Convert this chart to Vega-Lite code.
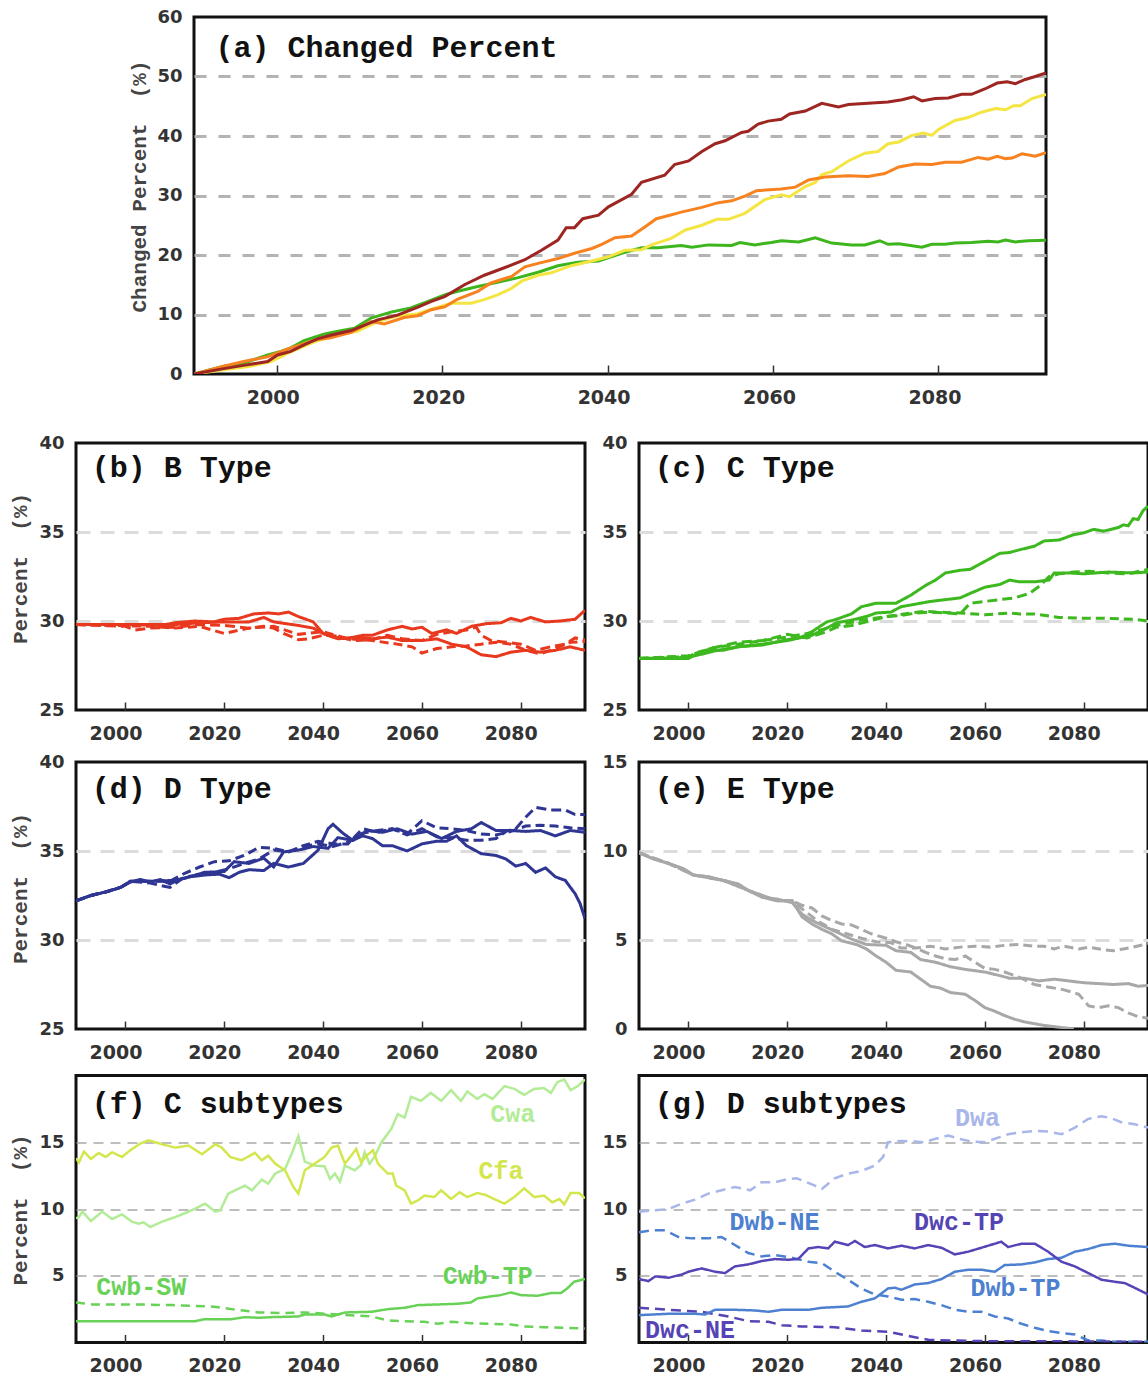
{
"$schema": "https://vega.github.io/schema/vega-lite/v6.json",
"padding": {"left": 7, "top": 6, "right": 0, "bottom": 5},
"spacing": 23,
"resolve": {"scale": {"color": "independent", "strokeDash": "independent", "strokeWidth": "independent"}},
"config": {
  "view": {"stroke": "#111111", "strokeWidth": 3},
  "axisX": {"domain": false, "grid": false, "ticks": true, "tickSize": -8, "tickWidth": 1.5, "tickColor": "#333333", "labelFont": "DejaVu Sans", "labelFontWeight": "bold", "labelFontSize": 19, "labelColor": "#333333", "labelPadding": 22, "labelOffset": -10, "labelFlush": false, "labelOverlap": false},
  "axisY": {"domain": false, "ticks": false, "grid": true, "labelFont": "DejaVu Sans", "labelFontWeight": "bold", "labelFontSize": 18, "labelColor": "#333333", "labelPadding": 12, "labelOverlap": false, "titleFont": "Liberation Mono", "titleFontWeight": "bold", "titleFontSize": 21, "titleColor": "#444444", "titleAngle": 270, "titleAlign": "center", "titleBaseline": "middle", "titleX": -56, "gridColor": "#dcdcdc", "gridDash": [14, 10], "gridWidth": 3}
},
"datasets": {
"chg": [
{"s":"s1","year":1990,"v":0},{"s":"s1","year":1993.6,"v":1.3},{"s":"s1","year":1996,"v":1.8},{"s":"s1","year":1998.9,"v":3.2},{"s":"s1","year":2000.5,"v":3.8},{"s":"s1","year":2001.7,"v":4.4},{"s":"s1","year":2003.3,"v":5.6},{"s":"s1","year":2005.7,"v":6.7},{"s":"s1","year":2007.4,"v":7.2},{"s":"s1","year":2009.4,"v":7.7},{"s":"s1","year":2011.4,"v":9.4},{"s":"s1","year":2013.8,"v":10.4},{"s":"s1","year":2016.2,"v":11.1},{"s":"s1","year":2018.3,"v":12.2},{"s":"s1","year":2020.3,"v":13.3},{"s":"s1","year":2021.9,"v":13.9},{"s":"s1","year":2024.3,"v":14.7},{"s":"s1","year":2026.7,"v":15.4},{"s":"s1","year":2029.2,"v":16.2},{"s":"s1","year":2031.6,"v":17.1},{"s":"s1","year":2034,"v":18.2},{"s":"s1","year":2036.4,"v":18.8},{"s":"s1","year":2038.9,"v":19.0},{"s":"s1","year":2041.7,"v":20.3},{"s":"s1","year":2044.1,"v":21.2},{"s":"s1","year":2046.1,"v":21.2},{"s":"s1","year":2048.9,"v":21.6},{"s":"s1","year":2050.2,"v":21.3},{"s":"s1","year":2052.2,"v":21.7},{"s":"s1","year":2055,"v":21.6},{"s":"s1","year":2056,"v":22.1},{"s":"s1","year":2057.8,"v":21.7},{"s":"s1","year":2059.8,"v":22.1},{"s":"s1","year":2061,"v":22.4},{"s":"s1","year":2063.1,"v":22.2},{"s":"s1","year":2065.1,"v":22.9},{"s":"s1","year":2067.1,"v":22.0},{"s":"s1","year":2069.5,"v":21.7},{"s":"s1","year":2071.1,"v":21.7},{"s":"s1","year":2072.9,"v":22.4},{"s":"s1","year":2073.9,"v":21.8},{"s":"s1","year":2075.2,"v":21.9},{"s":"s1","year":2078,"v":21.3},{"s":"s1","year":2079.2,"v":21.8},{"s":"s1","year":2080.8,"v":21.8},{"s":"s1","year":2082,"v":22.0},{"s":"s1","year":2084,"v":22.1},{"s":"s1","year":2086,"v":22.3},{"s":"s1","year":2087.2,"v":22.2},{"s":"s1","year":2088.1,"v":22.5},{"s":"s1","year":2089.3,"v":22.2},{"s":"s1","year":2090.9,"v":22.4},{"s":"s1","year":2093,"v":22.5},
{"s":"s2","year":1990,"v":0},{"s":"s2","year":1993.6,"v":0.7},{"s":"s2","year":1996.8,"v":1.3},{"s":"s2","year":1999.3,"v":2.1},{"s":"s2","year":2001.7,"v":3.7},{"s":"s2","year":2004.9,"v":5.6},{"s":"s2","year":2007.4,"v":6.5},{"s":"s2","year":2009.8,"v":7.2},{"s":"s2","year":2012.2,"v":8.8},{"s":"s2","year":2014.6,"v":9.8},{"s":"s2","year":2017,"v":10.1},{"s":"s2","year":2018.7,"v":10.9},{"s":"s2","year":2021.1,"v":11.9},{"s":"s2","year":2023.5,"v":11.9},{"s":"s2","year":2025.1,"v":12.5},{"s":"s2","year":2026.7,"v":13.3},{"s":"s2","year":2028.4,"v":14.4},{"s":"s2","year":2029.6,"v":15.6},{"s":"s2","year":2031.6,"v":16.6},{"s":"s2","year":2033.2,"v":17.0},{"s":"s2","year":2035.6,"v":18.2},{"s":"s2","year":2038.1,"v":19.0},{"s":"s2","year":2040.1,"v":19.7},{"s":"s2","year":2042.1,"v":20.8},{"s":"s2","year":2044.1,"v":20.9},{"s":"s2","year":2045.3,"v":21.7},{"s":"s2","year":2047.7,"v":22.8},{"s":"s2","year":2049.4,"v":24.2},{"s":"s2","year":2051.4,"v":25.0},{"s":"s2","year":2053.2,"v":26.0},{"s":"s2","year":2054.6,"v":26.0},{"s":"s2","year":2056.6,"v":27.0},{"s":"s2","year":2059,"v":29.3},{"s":"s2","year":2061,"v":30.1},{"s":"s2","year":2062,"v":29.8},{"s":"s2","year":2063.9,"v":31.5},{"s":"s2","year":2065.1,"v":32.2},{"s":"s2","year":2065.9,"v":33.5},{"s":"s2","year":2067.1,"v":34.0},{"s":"s2","year":2069.1,"v":35.8},{"s":"s2","year":2071.1,"v":37.1},{"s":"s2","year":2072.7,"v":37.4},{"s":"s2","year":2073.9,"v":38.7},{"s":"s2","year":2075.2,"v":39.0},{"s":"s2","year":2076.8,"v":40.1},{"s":"s2","year":2078.2,"v":40.5},{"s":"s2","year":2079.2,"v":40.1},{"s":"s2","year":2080,"v":41.1},{"s":"s2","year":2082,"v":42.6},{"s":"s2","year":2083.6,"v":43.1},{"s":"s2","year":2085.2,"v":44.0},{"s":"s2","year":2086.9,"v":44.6},{"s":"s2","year":2088.1,"v":44.4},{"s":"s2","year":2089.1,"v":45.1},{"s":"s2","year":2089.9,"v":45.1},{"s":"s2","year":2091.3,"v":46.3},{"s":"s2","year":2093,"v":47.0},
{"s":"s3","year":1990,"v":0},{"s":"s3","year":1993.6,"v":1.3},{"s":"s3","year":1996,"v":2.1},{"s":"s3","year":1998.9,"v":2.9},{"s":"s3","year":2001.7,"v":4.4},{"s":"s3","year":2004.9,"v":5.8},{"s":"s3","year":2006.5,"v":6.1},{"s":"s3","year":2009,"v":7.0},{"s":"s3","year":2011.4,"v":8.8},{"s":"s3","year":2013,"v":8.4},{"s":"s3","year":2015.4,"v":9.5},{"s":"s3","year":2017,"v":9.8},{"s":"s3","year":2018.7,"v":10.8},{"s":"s3","year":2020.3,"v":11.3},{"s":"s3","year":2021.9,"v":12.6},{"s":"s3","year":2024.3,"v":13.9},{"s":"s3","year":2025.9,"v":15.3},{"s":"s3","year":2028.4,"v":16.4},{"s":"s3","year":2030,"v":18.0},{"s":"s3","year":2031.6,"v":18.6},{"s":"s3","year":2034,"v":19.4},{"s":"s3","year":2036,"v":20.3},{"s":"s3","year":2038.1,"v":21.1},{"s":"s3","year":2039.3,"v":21.8},{"s":"s3","year":2040.9,"v":22.9},{"s":"s3","year":2042.9,"v":23.2},{"s":"s3","year":2044.5,"v":24.7},{"s":"s3","year":2045.9,"v":26.1},{"s":"s3","year":2047.3,"v":26.6},{"s":"s3","year":2048.9,"v":27.2},{"s":"s3","year":2051.4,"v":28.0},{"s":"s3","year":2053.4,"v":28.8},{"s":"s3","year":2055,"v":29.1},{"s":"s3","year":2056.6,"v":29.9},{"s":"s3","year":2058,"v":30.8},{"s":"s3","year":2061,"v":31.1},{"s":"s3","year":2062.7,"v":31.4},{"s":"s3","year":2064.3,"v":32.6},{"s":"s3","year":2066.3,"v":33.1},{"s":"s3","year":2069.1,"v":33.3},{"s":"s3","year":2071.5,"v":33.2},{"s":"s3","year":2073.5,"v":33.7},{"s":"s3","year":2075.2,"v":34.8},{"s":"s3","year":2077.2,"v":35.3},{"s":"s3","year":2079.2,"v":35.2},{"s":"s3","year":2080.8,"v":35.6},{"s":"s3","year":2082.8,"v":35.6},{"s":"s3","year":2084.8,"v":36.4},{"s":"s3","year":2086,"v":36.1},{"s":"s3","year":2087.1,"v":36.6},{"s":"s3","year":2088.1,"v":36.2},{"s":"s3","year":2088.9,"v":36.3},{"s":"s3","year":2090.1,"v":37.0},{"s":"s3","year":2091.7,"v":36.6},{"s":"s3","year":2093,"v":37.2},
{"s":"s4","year":1990,"v":0},{"s":"s4","year":1993.6,"v":0.9},{"s":"s4","year":1996,"v":1.45},{"s":"s4","year":1998.9,"v":2.1},{"s":"s4","year":2000.1,"v":3.2},{"s":"s4","year":2001.7,"v":3.8},{"s":"s4","year":2003.3,"v":4.9},{"s":"s4","year":2004.9,"v":5.9},{"s":"s4","year":2006.5,"v":6.5},{"s":"s4","year":2009,"v":7.3},{"s":"s4","year":2012.2,"v":9.1},{"s":"s4","year":2014.6,"v":9.9},{"s":"s4","year":2017,"v":11.2},{"s":"s4","year":2018.7,"v":12.2},{"s":"s4","year":2020.3,"v":13.0},{"s":"s4","year":2022.7,"v":15.0},{"s":"s4","year":2025.1,"v":16.6},{"s":"s4","year":2027.6,"v":17.9},{"s":"s4","year":2030,"v":19.2},{"s":"s4","year":2032,"v":20.8},{"s":"s4","year":2034,"v":22.5},{"s":"s4","year":2035,"v":24.6},{"s":"s4","year":2036,"v":24.6},{"s":"s4","year":2037,"v":26.1},{"s":"s4","year":2038.9,"v":26.7},{"s":"s4","year":2040.1,"v":28.1},{"s":"s4","year":2042.9,"v":30.2},{"s":"s4","year":2044.1,"v":32.2},{"s":"s4","year":2046.9,"v":33.4},{"s":"s4","year":2048.1,"v":35.2},{"s":"s4","year":2049.8,"v":35.8},{"s":"s4","year":2051.4,"v":37.4},{"s":"s4","year":2053,"v":38.7},{"s":"s4","year":2054.2,"v":39.2},{"s":"s4","year":2056.2,"v":40.6},{"s":"s4","year":2057,"v":40.8},{"s":"s4","year":2058.2,"v":42.0},{"s":"s4","year":2059.4,"v":42.5},{"s":"s4","year":2061,"v":42.8},{"s":"s4","year":2062,"v":43.7},{"s":"s4","year":2063.9,"v":44.2},{"s":"s4","year":2065.9,"v":45.5},{"s":"s4","year":2067.9,"v":44.9},{"s":"s4","year":2069.1,"v":45.3},{"s":"s4","year":2071.5,"v":45.5},{"s":"s4","year":2073.9,"v":45.7},{"s":"s4","year":2075.6,"v":46.1},{"s":"s4","year":2077,"v":46.6},{"s":"s4","year":2078,"v":45.9},{"s":"s4","year":2079.6,"v":46.3},{"s":"s4","year":2081.2,"v":46.4},{"s":"s4","year":2082.8,"v":47.0},{"s":"s4","year":2084,"v":47.0},{"s":"s4","year":2085.6,"v":47.9},{"s":"s4","year":2087.1,"v":48.9},{"s":"s4","year":2088.3,"v":49.1},{"s":"s4","year":2089.3,"v":48.8},{"s":"s4","year":2090.5,"v":49.5},{"s":"s4","year":2091.7,"v":50.0},{"s":"s4","year":2093,"v":50.6}
],
"types": [
{"p":"b","s":"s4","year":1990,"v":29.8},{"p":"b","s":"s4","year":2005,"v":29.7},{"p":"b","s":"s4","year":2010,"v":29.6},{"p":"b","s":"s4","year":2015,"v":29.7},{"p":"b","s":"s4","year":2020,"v":29.3},{"p":"b","s":"s4","year":2025,"v":29.6},{"p":"b","s":"s4","year":2030,"v":29.7},{"p":"b","s":"s4","year":2035,"v":29.25},{"p":"b","s":"s4","year":2040,"v":29.4},{"p":"b","s":"s4","year":2045,"v":29.0},{"p":"b","s":"s4","year":2050,"v":28.9},{"p":"b","s":"s4","year":2055,"v":28.7},{"p":"b","s":"s4","year":2058,"v":28.55},{"p":"b","s":"s4","year":2060,"v":28.2},{"p":"b","s":"s4","year":2063,"v":28.45},{"p":"b","s":"s4","year":2066,"v":28.55},{"p":"b","s":"s4","year":2069,"v":28.6},{"p":"b","s":"s4","year":2072,"v":28.7},{"p":"b","s":"s4","year":2075,"v":28.8},{"p":"b","s":"s4","year":2078,"v":28.7},{"p":"b","s":"s4","year":2081,"v":28.35},{"p":"b","s":"s4","year":2084,"v":28.15},{"p":"b","s":"s4","year":2087,"v":28.45},{"p":"b","s":"s4","year":2090,"v":28.8},{"p":"b","s":"s4","year":2093,"v":28.85},
{"p":"b","s":"s3","year":1990,"v":29.8},{"p":"b","s":"s3","year":2010,"v":29.8},{"p":"b","s":"s3","year":2015,"v":29.9},{"p":"b","s":"s3","year":2020,"v":29.95},{"p":"b","s":"s3","year":2025,"v":29.95},{"p":"b","s":"s3","year":2028,"v":30.2},{"p":"b","s":"s3","year":2030,"v":29.95},{"p":"b","s":"s3","year":2035,"v":29.75},{"p":"b","s":"s3","year":2038,"v":29.6},{"p":"b","s":"s3","year":2040,"v":29.3},{"p":"b","s":"s3","year":2043,"v":29.0},{"p":"b","s":"s3","year":2047,"v":29.1},{"p":"b","s":"s3","year":2050,"v":29.0},{"p":"b","s":"s3","year":2053,"v":29.1},{"p":"b","s":"s3","year":2056,"v":28.9},{"p":"b","s":"s3","year":2060,"v":28.9},{"p":"b","s":"s3","year":2063,"v":29.0},{"p":"b","s":"s3","year":2066,"v":28.7},{"p":"b","s":"s3","year":2069,"v":28.55},{"p":"b","s":"s3","year":2072,"v":28.1},{"p":"b","s":"s3","year":2075,"v":28.0},{"p":"b","s":"s3","year":2078,"v":28.25},{"p":"b","s":"s3","year":2081,"v":28.35},{"p":"b","s":"s3","year":2084,"v":28.25},{"p":"b","s":"s3","year":2087,"v":28.35},{"p":"b","s":"s3","year":2090,"v":28.55},{"p":"b","s":"s3","year":2093,"v":28.35},
{"p":"b","s":"s2","year":1990,"v":29.8},{"p":"b","s":"s2","year":2000,"v":29.7},{"p":"b","s":"s2","year":2002,"v":29.5},{"p":"b","s":"s2","year":2005,"v":29.6},{"p":"b","s":"s2","year":2010,"v":29.65},{"p":"b","s":"s2","year":2015,"v":29.8},{"p":"b","s":"s2","year":2020,"v":29.75},{"p":"b","s":"s2","year":2025,"v":29.6},{"p":"b","s":"s2","year":2028,"v":29.7},{"p":"b","s":"s2","year":2030,"v":29.6},{"p":"b","s":"s2","year":2032,"v":29.3},{"p":"b","s":"s2","year":2035,"v":28.95},{"p":"b","s":"s2","year":2037,"v":29.0},{"p":"b","s":"s2","year":2040,"v":29.2},{"p":"b","s":"s2","year":2043,"v":29.15},{"p":"b","s":"s2","year":2046,"v":28.9},{"p":"b","s":"s2","year":2050,"v":28.95},{"p":"b","s":"s2","year":2053,"v":29.2},{"p":"b","s":"s2","year":2056,"v":29.0},{"p":"b","s":"s2","year":2060,"v":28.9},{"p":"b","s":"s2","year":2063,"v":29.25},{"p":"b","s":"s2","year":2066,"v":29.4},{"p":"b","s":"s2","year":2069,"v":29.5},{"p":"b","s":"s2","year":2071,"v":29.65},{"p":"b","s":"s2","year":2072,"v":29.2},{"p":"b","s":"s2","year":2074,"v":28.9},{"p":"b","s":"s2","year":2077,"v":28.8},{"p":"b","s":"s2","year":2080,"v":28.7},{"p":"b","s":"s2","year":2083,"v":28.35},{"p":"b","s":"s2","year":2086,"v":28.55},{"p":"b","s":"s2","year":2089,"v":28.7},{"p":"b","s":"s2","year":2091,"v":29.05},{"p":"b","s":"s2","year":2093,"v":28.95},
{"p":"b","s":"s1","year":1990,"v":29.8},{"p":"b","s":"s1","year":2000,"v":29.8},{"p":"b","s":"s1","year":2007,"v":29.75},{"p":"b","s":"s1","year":2010,"v":29.9},{"p":"b","s":"s1","year":2014,"v":30.0},{"p":"b","s":"s1","year":2018,"v":29.95},{"p":"b","s":"s1","year":2020,"v":30.1},{"p":"b","s":"s1","year":2023,"v":30.15},{"p":"b","s":"s1","year":2026,"v":30.4},{"p":"b","s":"s1","year":2029,"v":30.45},{"p":"b","s":"s1","year":2031,"v":30.4},{"p":"b","s":"s1","year":2033,"v":30.5},{"p":"b","s":"s1","year":2035,"v":30.25},{"p":"b","s":"s1","year":2038,"v":29.95},{"p":"b","s":"s1","year":2040,"v":29.3},{"p":"b","s":"s1","year":2042,"v":29.1},{"p":"b","s":"s1","year":2045,"v":29.0},{"p":"b","s":"s1","year":2048,"v":29.2},{"p":"b","s":"s1","year":2050,"v":29.2},{"p":"b","s":"s1","year":2053,"v":29.5},{"p":"b","s":"s1","year":2056,"v":29.7},{"p":"b","s":"s1","year":2058,"v":29.55},{"p":"b","s":"s1","year":2060,"v":29.65},{"p":"b","s":"s1","year":2062,"v":29.3},{"p":"b","s":"s1","year":2065,"v":29.5},{"p":"b","s":"s1","year":2067,"v":29.3},{"p":"b","s":"s1","year":2070,"v":29.7},{"p":"b","s":"s1","year":2073,"v":29.85},{"p":"b","s":"s1","year":2076,"v":29.9},{"p":"b","s":"s1","year":2078,"v":30.15},{"p":"b","s":"s1","year":2080,"v":30.0},{"p":"b","s":"s1","year":2082,"v":30.2},{"p":"b","s":"s1","year":2085,"v":29.95},{"p":"b","s":"s1","year":2088,"v":30.0},{"p":"b","s":"s1","year":2091,"v":30.1},{"p":"b","s":"s1","year":2093,"v":30.6},
{"p":"c","s":"s4","year":1990,"v":27.9},{"p":"c","s":"s4","year":2000,"v":28.05},{"p":"c","s":"s4","year":2005,"v":28.5},{"p":"c","s":"s4","year":2010,"v":28.7},{"p":"c","s":"s4","year":2015,"v":28.9},{"p":"c","s":"s4","year":2020,"v":29.1},{"p":"c","s":"s4","year":2025,"v":29.35},{"p":"c","s":"s4","year":2030,"v":29.75},{"p":"c","s":"s4","year":2035,"v":30.05},{"p":"c","s":"s4","year":2040,"v":30.25},{"p":"c","s":"s4","year":2045,"v":30.45},{"p":"c","s":"s4","year":2048,"v":30.55},{"p":"c","s":"s4","year":2050,"v":30.5},{"p":"c","s":"s4","year":2055,"v":30.45},{"p":"c","s":"s4","year":2060,"v":30.35},{"p":"c","s":"s4","year":2065,"v":30.45},{"p":"c","s":"s4","year":2067,"v":30.4},{"p":"c","s":"s4","year":2070,"v":30.4},{"p":"c","s":"s4","year":2075,"v":30.2},{"p":"c","s":"s4","year":2080,"v":30.15},{"p":"c","s":"s4","year":2085,"v":30.15},{"p":"c","s":"s4","year":2090,"v":30.1},{"p":"c","s":"s4","year":2093,"v":30.0},
{"p":"c","s":"s3","year":1990,"v":27.9},{"p":"c","s":"s3","year":2000,"v":27.95},{"p":"c","s":"s3","year":2005,"v":28.3},{"p":"c","s":"s3","year":2010,"v":28.55},{"p":"c","s":"s3","year":2015,"v":28.7},{"p":"c","s":"s3","year":2020,"v":28.9},{"p":"c","s":"s3","year":2025,"v":29.2},{"p":"c","s":"s3","year":2028,"v":29.6},{"p":"c","s":"s3","year":2030,"v":29.9},{"p":"c","s":"s3","year":2033,"v":30.05},{"p":"c","s":"s3","year":2036,"v":30.25},{"p":"c","s":"s3","year":2038,"v":30.45},{"p":"c","s":"s3","year":2041,"v":30.5},{"p":"c","s":"s3","year":2043,"v":30.8},{"p":"c","s":"s3","year":2045,"v":30.9},{"p":"c","s":"s3","year":2047,"v":31.0},{"p":"c","s":"s3","year":2049,"v":31.1},{"p":"c","s":"s3","year":2052,"v":31.2},{"p":"c","s":"s3","year":2055,"v":31.3},{"p":"c","s":"s3","year":2057,"v":31.55},{"p":"c","s":"s3","year":2060,"v":31.9},{"p":"c","s":"s3","year":2063,"v":32.05},{"p":"c","s":"s3","year":2065,"v":32.3},{"p":"c","s":"s3","year":2067,"v":32.2},{"p":"c","s":"s3","year":2070,"v":32.2},{"p":"c","s":"s3","year":2073,"v":32.3},{"p":"c","s":"s3","year":2074,"v":32.7},{"p":"c","s":"s3","year":2077,"v":32.7},{"p":"c","s":"s3","year":2080,"v":32.65},{"p":"c","s":"s3","year":2085,"v":32.75},{"p":"c","s":"s3","year":2090,"v":32.7},{"p":"c","s":"s3","year":2093,"v":32.75},
{"p":"c","s":"s2","year":1990,"v":27.9},{"p":"c","s":"s2","year":2000,"v":28.0},{"p":"c","s":"s2","year":2002,"v":28.25},{"p":"c","s":"s2","year":2006,"v":28.55},{"p":"c","s":"s2","year":2010,"v":28.8},{"p":"c","s":"s2","year":2015,"v":28.9},{"p":"c","s":"s2","year":2020,"v":29.25},{"p":"c","s":"s2","year":2024,"v":29.05},{"p":"c","s":"s2","year":2028,"v":29.4},{"p":"c","s":"s2","year":2030,"v":29.65},{"p":"c","s":"s2","year":2033,"v":29.75},{"p":"c","s":"s2","year":2036,"v":29.95},{"p":"c","s":"s2","year":2040,"v":30.25},{"p":"c","s":"s2","year":2043,"v":30.3},{"p":"c","s":"s2","year":2046,"v":30.45},{"p":"c","s":"s2","year":2049,"v":30.5},{"p":"c","s":"s2","year":2052,"v":30.45},{"p":"c","s":"s2","year":2055,"v":30.4},{"p":"c","s":"s2","year":2057,"v":31.0},{"p":"c","s":"s2","year":2060,"v":31.1},{"p":"c","s":"s2","year":2063,"v":31.2},{"p":"c","s":"s2","year":2066,"v":31.3},{"p":"c","s":"s2","year":2069,"v":31.55},{"p":"c","s":"s2","year":2071,"v":31.95},{"p":"c","s":"s2","year":2073,"v":32.5},{"p":"c","s":"s2","year":2075,"v":32.65},{"p":"c","s":"s2","year":2078,"v":32.75},{"p":"c","s":"s2","year":2081,"v":32.8},{"p":"c","s":"s2","year":2085,"v":32.7},{"p":"c","s":"s2","year":2089,"v":32.65},{"p":"c","s":"s2","year":2093,"v":32.9},
{"p":"c","s":"s1","year":1990,"v":27.9},{"p":"c","s":"s1","year":2000,"v":27.9},{"p":"c","s":"s1","year":2002,"v":28.2},{"p":"c","s":"s1","year":2004,"v":28.35},{"p":"c","s":"s1","year":2007,"v":28.35},{"p":"c","s":"s1","year":2010,"v":28.55},{"p":"c","s":"s1","year":2015,"v":28.65},{"p":"c","s":"s1","year":2020,"v":28.95},{"p":"c","s":"s1","year":2023,"v":29.1},{"p":"c","s":"s1","year":2025,"v":29.4},{"p":"c","s":"s1","year":2028,"v":29.95},{"p":"c","s":"s1","year":2030,"v":30.1},{"p":"c","s":"s1","year":2033,"v":30.4},{"p":"c","s":"s1","year":2035,"v":30.8},{"p":"c","s":"s1","year":2038,"v":31.0},{"p":"c","s":"s1","year":2042,"v":31.0},{"p":"c","s":"s1","year":2045,"v":31.45},{"p":"c","s":"s1","year":2048,"v":32.0},{"p":"c","s":"s1","year":2050,"v":32.3},{"p":"c","s":"s1","year":2052,"v":32.7},{"p":"c","s":"s1","year":2055,"v":32.85},{"p":"c","s":"s1","year":2057,"v":32.9},{"p":"c","s":"s1","year":2060,"v":33.35},{"p":"c","s":"s1","year":2063,"v":33.8},{"p":"c","s":"s1","year":2065,"v":33.85},{"p":"c","s":"s1","year":2067,"v":34.0},{"p":"c","s":"s1","year":2070,"v":34.2},{"p":"c","s":"s1","year":2072,"v":34.5},{"p":"c","s":"s1","year":2075,"v":34.55},{"p":"c","s":"s1","year":2078,"v":34.85},{"p":"c","s":"s1","year":2080,"v":34.95},{"p":"c","s":"s1","year":2082,"v":35.15},{"p":"c","s":"s1","year":2084,"v":35.05},{"p":"c","s":"s1","year":2087,"v":35.25},{"p":"c","s":"s1","year":2088,"v":35.4},{"p":"c","s":"s1","year":2089,"v":35.35},{"p":"c","s":"s1","year":2090,"v":35.75},{"p":"c","s":"s1","year":2091,"v":35.7},{"p":"c","s":"s1","year":2092,"v":36.2},{"p":"c","s":"s1","year":2093,"v":36.45},
{"p":"d","s":"s4","year":1990,"v":32.2},{"p":"d","s":"s4","year":1993,"v":32.5},{"p":"d","s":"s4","year":1996,"v":32.7},{"p":"d","s":"s4","year":1999,"v":32.95},{"p":"d","s":"s4","year":2001,"v":33.3},{"p":"d","s":"s4","year":2005,"v":33.3},{"p":"d","s":"s4","year":2009,"v":33.3},{"p":"d","s":"s4","year":2012,"v":33.75},{"p":"d","s":"s4","year":2015,"v":34.1},{"p":"d","s":"s4","year":2018,"v":34.4},{"p":"d","s":"s4","year":2021,"v":34.45},{"p":"d","s":"s4","year":2024,"v":34.75},{"p":"d","s":"s4","year":2027,"v":35.2},{"p":"d","s":"s4","year":2030,"v":35.15},{"p":"d","s":"s4","year":2033,"v":34.95},{"p":"d","s":"s4","year":2036,"v":35.3},{"p":"d","s":"s4","year":2039,"v":35.55},{"p":"d","s":"s4","year":2042,"v":35.4},{"p":"d","s":"s4","year":2045,"v":35.4},{"p":"d","s":"s4","year":2048,"v":36.25},{"p":"d","s":"s4","year":2051,"v":36.05},{"p":"d","s":"s4","year":2054,"v":36.25},{"p":"d","s":"s4","year":2057,"v":35.95},{"p":"d","s":"s4","year":2060,"v":36.7},{"p":"d","s":"s4","year":2063,"v":36.3},{"p":"d","s":"s4","year":2066,"v":36.25},{"p":"d","s":"s4","year":2069,"v":36.15},{"p":"d","s":"s4","year":2072,"v":35.95},{"p":"d","s":"s4","year":2075,"v":35.9},{"p":"d","s":"s4","year":2078,"v":36.1},{"p":"d","s":"s4","year":2081,"v":36.4},{"p":"d","s":"s4","year":2084,"v":36.45},{"p":"d","s":"s4","year":2087,"v":36.4},{"p":"d","s":"s4","year":2090,"v":36.3},{"p":"d","s":"s4","year":2093,"v":36.25},
{"p":"d","s":"s3","year":1990,"v":32.2},{"p":"d","s":"s3","year":1993,"v":32.5},{"p":"d","s":"s3","year":1996,"v":32.7},{"p":"d","s":"s3","year":1999,"v":32.95},{"p":"d","s":"s3","year":2001,"v":33.3},{"p":"d","s":"s3","year":2005,"v":33.3},{"p":"d","s":"s3","year":2010,"v":33.35},{"p":"d","s":"s3","year":2013,"v":33.55},{"p":"d","s":"s3","year":2016,"v":33.8},{"p":"d","s":"s3","year":2020,"v":33.85},{"p":"d","s":"s3","year":2022,"v":34.4},{"p":"d","s":"s3","year":2025,"v":34.3},{"p":"d","s":"s3","year":2028,"v":34.6},{"p":"d","s":"s3","year":2030,"v":34.1},{"p":"d","s":"s3","year":2032,"v":34.95},{"p":"d","s":"s3","year":2035,"v":35.05},{"p":"d","s":"s3","year":2038,"v":35.25},{"p":"d","s":"s3","year":2041,"v":35.15},{"p":"d","s":"s3","year":2043,"v":35.75},{"p":"d","s":"s3","year":2046,"v":35.6},{"p":"d","s":"s3","year":2049,"v":36.15},{"p":"d","s":"s3","year":2052,"v":36.05},{"p":"d","s":"s3","year":2055,"v":36.25},{"p":"d","s":"s3","year":2058,"v":35.95},{"p":"d","s":"s3","year":2061,"v":36.1},{"p":"d","s":"s3","year":2064,"v":35.7},{"p":"d","s":"s3","year":2067,"v":36.1},{"p":"d","s":"s3","year":2070,"v":36.25},{"p":"d","s":"s3","year":2072,"v":36.6},{"p":"d","s":"s3","year":2075,"v":36.15},{"p":"d","s":"s3","year":2078,"v":36.15},{"p":"d","s":"s3","year":2081,"v":36.1},{"p":"d","s":"s3","year":2084,"v":36.15},{"p":"d","s":"s3","year":2087,"v":35.85},{"p":"d","s":"s3","year":2090,"v":36.15},{"p":"d","s":"s3","year":2093,"v":36.05},
{"p":"d","s":"s2","year":1990,"v":32.2},{"p":"d","s":"s2","year":1993,"v":32.5},{"p":"d","s":"s2","year":1996,"v":32.7},{"p":"d","s":"s2","year":1999,"v":32.95},{"p":"d","s":"s2","year":2001,"v":33.3},{"p":"d","s":"s2","year":2005,"v":33.2},{"p":"d","s":"s2","year":2009,"v":32.95},{"p":"d","s":"s2","year":2012,"v":33.55},{"p":"d","s":"s2","year":2015,"v":33.65},{"p":"d","s":"s2","year":2018,"v":33.8},{"p":"d","s":"s2","year":2021,"v":34.0},{"p":"d","s":"s2","year":2024,"v":34.3},{"p":"d","s":"s2","year":2027,"v":34.55},{"p":"d","s":"s2","year":2030,"v":35.05},{"p":"d","s":"s2","year":2033,"v":34.95},{"p":"d","s":"s2","year":2036,"v":35.25},{"p":"d","s":"s2","year":2039,"v":35.4},{"p":"d","s":"s2","year":2042,"v":35.25},{"p":"d","s":"s2","year":2045,"v":35.5},{"p":"d","s":"s2","year":2048,"v":36.0},{"p":"d","s":"s2","year":2051,"v":36.15},{"p":"d","s":"s2","year":2054,"v":36.25},{"p":"d","s":"s2","year":2057,"v":35.9},{"p":"d","s":"s2","year":2060,"v":36.25},{"p":"d","s":"s2","year":2063,"v":35.8},{"p":"d","s":"s2","year":2066,"v":35.75},{"p":"d","s":"s2","year":2069,"v":35.6},{"p":"d","s":"s2","year":2072,"v":35.6},{"p":"d","s":"s2","year":2075,"v":35.7},{"p":"d","s":"s2","year":2077,"v":36.1},{"p":"d","s":"s2","year":2079,"v":36.25},{"p":"d","s":"s2","year":2081,"v":36.9},{"p":"d","s":"s2","year":2083,"v":37.45},{"p":"d","s":"s2","year":2086,"v":37.3},{"p":"d","s":"s2","year":2089,"v":37.3},{"p":"d","s":"s2","year":2091,"v":37.05},{"p":"d","s":"s2","year":2093,"v":37.05},
{"p":"d","s":"s1","year":1990,"v":32.2},{"p":"d","s":"s1","year":1993,"v":32.5},{"p":"d","s":"s1","year":1996,"v":32.7},{"p":"d","s":"s1","year":1999,"v":32.95},{"p":"d","s":"s1","year":2001,"v":33.25},{"p":"d","s":"s1","year":2003,"v":33.4},{"p":"d","s":"s1","year":2005,"v":33.25},{"p":"d","s":"s1","year":2007,"v":33.4},{"p":"d","s":"s1","year":2009,"v":33.15},{"p":"d","s":"s1","year":2011,"v":33.4},{"p":"d","s":"s1","year":2013,"v":33.55},{"p":"d","s":"s1","year":2016,"v":33.65},{"p":"d","s":"s1","year":2019,"v":33.7},{"p":"d","s":"s1","year":2021,"v":33.5},{"p":"d","s":"s1","year":2023,"v":33.8},{"p":"d","s":"s1","year":2025,"v":33.95},{"p":"d","s":"s1","year":2028,"v":33.9},{"p":"d","s":"s1","year":2030,"v":34.3},{"p":"d","s":"s1","year":2033,"v":34.1},{"p":"d","s":"s1","year":2036,"v":34.3},{"p":"d","s":"s1","year":2039,"v":35.05},{"p":"d","s":"s1","year":2041,"v":36.25},{"p":"d","s":"s1","year":2042,"v":36.5},{"p":"d","s":"s1","year":2044,"v":36.0},{"p":"d","s":"s1","year":2046,"v":35.6},{"p":"d","s":"s1","year":2048,"v":35.85},{"p":"d","s":"s1","year":2050,"v":35.7},{"p":"d","s":"s1","year":2052,"v":35.3},{"p":"d","s":"s1","year":2054,"v":35.3},{"p":"d","s":"s1","year":2057,"v":35.0},{"p":"d","s":"s1","year":2060,"v":35.4},{"p":"d","s":"s1","year":2063,"v":35.55},{"p":"d","s":"s1","year":2065,"v":35.55},{"p":"d","s":"s1","year":2067,"v":35.85},{"p":"d","s":"s1","year":2069,"v":35.3},{"p":"d","s":"s1","year":2072,"v":34.85},{"p":"d","s":"s1","year":2075,"v":34.75},{"p":"d","s":"s1","year":2077,"v":34.55},{"p":"d","s":"s1","year":2079,"v":34.15},{"p":"d","s":"s1","year":2081,"v":34.3},{"p":"d","s":"s1","year":2083,"v":33.8},{"p":"d","s":"s1","year":2085,"v":34.05},{"p":"d","s":"s1","year":2087,"v":33.55},{"p":"d","s":"s1","year":2089,"v":33.35},{"p":"d","s":"s1","year":2091,"v":32.6},{"p":"d","s":"s1","year":2092,"v":32.05},{"p":"d","s":"s1","year":2093,"v":31.2},
{"p":"e","s":"s4","year":1990,"v":9.9},{"p":"e","s":"s4","year":1996,"v":9.3},{"p":"e","s":"s4","year":2001,"v":8.65},{"p":"e","s":"s4","year":2007,"v":8.35},{"p":"e","s":"s4","year":2012,"v":7.8},{"p":"e","s":"s4","year":2018,"v":7.2},{"p":"e","s":"s4","year":2021,"v":7.2},{"p":"e","s":"s4","year":2023,"v":6.75},{"p":"e","s":"s4","year":2026,"v":6.1},{"p":"e","s":"s4","year":2029,"v":5.6},{"p":"e","s":"s4","year":2032,"v":5.35},{"p":"e","s":"s4","year":2035,"v":5.1},{"p":"e","s":"s4","year":2038,"v":4.9},{"p":"e","s":"s4","year":2041,"v":4.85},{"p":"e","s":"s4","year":2043,"v":4.55},{"p":"e","s":"s4","year":2046,"v":4.55},{"p":"e","s":"s4","year":2049,"v":4.65},{"p":"e","s":"s4","year":2052,"v":4.5},{"p":"e","s":"s4","year":2055,"v":4.6},{"p":"e","s":"s4","year":2058,"v":4.65},{"p":"e","s":"s4","year":2061,"v":4.6},{"p":"e","s":"s4","year":2064,"v":4.7},{"p":"e","s":"s4","year":2067,"v":4.75},{"p":"e","s":"s4","year":2070,"v":4.65},{"p":"e","s":"s4","year":2072,"v":4.65},{"p":"e","s":"s4","year":2074,"v":4.5},{"p":"e","s":"s4","year":2076,"v":4.65},{"p":"e","s":"s4","year":2079,"v":4.5},{"p":"e","s":"s4","year":2081,"v":4.6},{"p":"e","s":"s4","year":2084,"v":4.45},{"p":"e","s":"s4","year":2086,"v":4.4},{"p":"e","s":"s4","year":2088,"v":4.5},{"p":"e","s":"s4","year":2090,"v":4.6},{"p":"e","s":"s4","year":2093,"v":4.8},
{"p":"e","s":"s3","year":1990,"v":9.9},{"p":"e","s":"s3","year":1993,"v":9.55},{"p":"e","s":"s3","year":1996,"v":9.3},{"p":"e","s":"s3","year":1999,"v":9.0},{"p":"e","s":"s3","year":2001,"v":8.65},{"p":"e","s":"s3","year":2004,"v":8.55},{"p":"e","s":"s3","year":2007,"v":8.35},{"p":"e","s":"s3","year":2010,"v":8.15},{"p":"e","s":"s3","year":2012,"v":7.8},{"p":"e","s":"s3","year":2015,"v":7.4},{"p":"e","s":"s3","year":2018,"v":7.3},{"p":"e","s":"s3","year":2021,"v":7.1},{"p":"e","s":"s3","year":2023,"v":6.45},{"p":"e","s":"s3","year":2025,"v":6.1},{"p":"e","s":"s3","year":2028,"v":5.7},{"p":"e","s":"s3","year":2030,"v":5.45},{"p":"e","s":"s3","year":2033,"v":5.05},{"p":"e","s":"s3","year":2036,"v":4.75},{"p":"e","s":"s3","year":2040,"v":4.7},{"p":"e","s":"s3","year":2042,"v":4.4},{"p":"e","s":"s3","year":2045,"v":4.3},{"p":"e","s":"s3","year":2047,"v":3.9},{"p":"e","s":"s3","year":2050,"v":3.75},{"p":"e","s":"s3","year":2053,"v":3.5},{"p":"e","s":"s3","year":2056,"v":3.35},{"p":"e","s":"s3","year":2060,"v":3.2},{"p":"e","s":"s3","year":2063,"v":3.0},{"p":"e","s":"s3","year":2065,"v":2.85},{"p":"e","s":"s3","year":2068,"v":2.85},{"p":"e","s":"s3","year":2071,"v":2.7},{"p":"e","s":"s3","year":2074,"v":2.8},{"p":"e","s":"s3","year":2077,"v":2.7},{"p":"e","s":"s3","year":2080,"v":2.6},{"p":"e","s":"s3","year":2083,"v":2.55},{"p":"e","s":"s3","year":2086,"v":2.5},{"p":"e","s":"s3","year":2089,"v":2.55},{"p":"e","s":"s3","year":2091,"v":2.4},{"p":"e","s":"s3","year":2093,"v":2.45},
{"p":"e","s":"s2","year":1990,"v":9.9},{"p":"e","s":"s2","year":1996,"v":9.3},{"p":"e","s":"s2","year":2001,"v":8.65},{"p":"e","s":"s2","year":2007,"v":8.35},{"p":"e","s":"s2","year":2012,"v":7.8},{"p":"e","s":"s2","year":2018,"v":7.2},{"p":"e","s":"s2","year":2021,"v":7.2},{"p":"e","s":"s2","year":2023,"v":6.95},{"p":"e","s":"s2","year":2025,"v":6.8},{"p":"e","s":"s2","year":2027,"v":6.35},{"p":"e","s":"s2","year":2029,"v":6.1},{"p":"e","s":"s2","year":2031,"v":5.9},{"p":"e","s":"s2","year":2033,"v":5.85},{"p":"e","s":"s2","year":2035,"v":5.6},{"p":"e","s":"s2","year":2037,"v":5.35},{"p":"e","s":"s2","year":2040,"v":5.1},{"p":"e","s":"s2","year":2042,"v":4.9},{"p":"e","s":"s2","year":2044,"v":4.75},{"p":"e","s":"s2","year":2046,"v":4.55},{"p":"e","s":"s2","year":2048,"v":4.3},{"p":"e","s":"s2","year":2050,"v":4.1},{"p":"e","s":"s2","year":2052,"v":3.95},{"p":"e","s":"s2","year":2054,"v":3.9},{"p":"e","s":"s2","year":2056,"v":4.1},{"p":"e","s":"s2","year":2058,"v":3.75},{"p":"e","s":"s2","year":2060,"v":3.4},{"p":"e","s":"s2","year":2062,"v":3.35},{"p":"e","s":"s2","year":2064,"v":3.2},{"p":"e","s":"s2","year":2067,"v":2.9},{"p":"e","s":"s2","year":2070,"v":2.5},{"p":"e","s":"s2","year":2073,"v":2.35},{"p":"e","s":"s2","year":2076,"v":2.2},{"p":"e","s":"s2","year":2079,"v":1.95},{"p":"e","s":"s2","year":2081,"v":1.3},{"p":"e","s":"s2","year":2083,"v":1.2},{"p":"e","s":"s2","year":2085,"v":1.3},{"p":"e","s":"s2","year":2087,"v":1.2},{"p":"e","s":"s2","year":2089,"v":0.9},{"p":"e","s":"s2","year":2091,"v":0.7},{"p":"e","s":"s2","year":2093,"v":0.6},
{"p":"e","s":"s1","year":1990,"v":9.9},{"p":"e","s":"s1","year":1993,"v":9.55},{"p":"e","s":"s1","year":1996,"v":9.3},{"p":"e","s":"s1","year":1999,"v":9.0},{"p":"e","s":"s1","year":2001,"v":8.65},{"p":"e","s":"s1","year":2004,"v":8.55},{"p":"e","s":"s1","year":2007,"v":8.35},{"p":"e","s":"s1","year":2010,"v":8.15},{"p":"e","s":"s1","year":2012,"v":7.8},{"p":"e","s":"s1","year":2015,"v":7.4},{"p":"e","s":"s1","year":2018,"v":7.2},{"p":"e","s":"s1","year":2021,"v":7.2},{"p":"e","s":"s1","year":2023,"v":6.3},{"p":"e","s":"s1","year":2025,"v":5.9},{"p":"e","s":"s1","year":2027,"v":5.6},{"p":"e","s":"s1","year":2029,"v":5.35},{"p":"e","s":"s1","year":2031,"v":4.95},{"p":"e","s":"s1","year":2034,"v":4.75},{"p":"e","s":"s1","year":2036,"v":4.5},{"p":"e","s":"s1","year":2038,"v":4.1},{"p":"e","s":"s1","year":2040,"v":3.75},{"p":"e","s":"s1","year":2042,"v":3.3},{"p":"e","s":"s1","year":2045,"v":3.2},{"p":"e","s":"s1","year":2047,"v":2.8},{"p":"e","s":"s1","year":2049,"v":2.4},{"p":"e","s":"s1","year":2051,"v":2.3},{"p":"e","s":"s1","year":2053,"v":2.05},{"p":"e","s":"s1","year":2056,"v":1.95},{"p":"e","s":"s1","year":2058,"v":1.6},{"p":"e","s":"s1","year":2060,"v":1.2},{"p":"e","s":"s1","year":2062,"v":1.0},{"p":"e","s":"s1","year":2064,"v":0.75},{"p":"e","s":"s1","year":2066,"v":0.55},{"p":"e","s":"s1","year":2068,"v":0.4},{"p":"e","s":"s1","year":2070,"v":0.3},{"p":"e","s":"s1","year":2072,"v":0.2},{"p":"e","s":"s1","year":2075,"v":0.1},{"p":"e","s":"s1","year":2078,"v":0.0}
],
"sub": [
{"p":"f","n":"Cwa","year":1990,"v":9.3},{"p":"f","n":"Cwa","year":1990.6,"v":9.4},{"p":"f","n":"Cwa","year":1991.3,"v":9.8},{"p":"f","n":"Cwa","year":1993,"v":9.1},{"p":"f","n":"Cwa","year":1995.3,"v":9.8},{"p":"f","n":"Cwa","year":1997.3,"v":9.25},{"p":"f","n":"Cwa","year":1999.3,"v":9.6},{"p":"f","n":"Cwa","year":2001.3,"v":9.05},{"p":"f","n":"Cwa","year":2002.7,"v":8.9},{"p":"f","n":"Cwa","year":2003.7,"v":9.0},{"p":"f","n":"Cwa","year":2005,"v":8.65},{"p":"f","n":"Cwa","year":2007.4,"v":9.05},{"p":"f","n":"Cwa","year":2010.1,"v":9.4},{"p":"f","n":"Cwa","year":2012.8,"v":9.8},{"p":"f","n":"Cwa","year":2014.8,"v":10.15},{"p":"f","n":"Cwa","year":2016.1,"v":10.4},{"p":"f","n":"Cwa","year":2018.2,"v":9.8},{"p":"f","n":"Cwa","year":2019.2,"v":9.9},{"p":"f","n":"Cwa","year":2020.8,"v":11.15},{"p":"f","n":"Cwa","year":2022.2,"v":11.4},{"p":"f","n":"Cwa","year":2024.2,"v":11.75},{"p":"f","n":"Cwa","year":2025.6,"v":11.4},{"p":"f","n":"Cwa","year":2027.6,"v":12.2},{"p":"f","n":"Cwa","year":2028.9,"v":11.9},{"p":"f","n":"Cwa","year":2030.3,"v":12.65},{"p":"f","n":"Cwa","year":2032.3,"v":13.0},{"p":"f","n":"Cwa","year":2033.6,"v":14.1},{"p":"f","n":"Cwa","year":2035,"v":15.45},{"p":"f","n":"Cwa","year":2036.3,"v":13.55},{"p":"f","n":"Cwa","year":2038.3,"v":13.25},{"p":"f","n":"Cwa","year":2040.3,"v":13.2},{"p":"f","n":"Cwa","year":2041.4,"v":12.25},{"p":"f","n":"Cwa","year":2042.4,"v":12.65},{"p":"f","n":"Cwa","year":2043.4,"v":12.05},{"p":"f","n":"Cwa","year":2044.4,"v":13.25},{"p":"f","n":"Cwa","year":2046.4,"v":12.9},{"p":"f","n":"Cwa","year":2047.7,"v":13.3},{"p":"f","n":"Cwa","year":2048.4,"v":14.25},{"p":"f","n":"Cwa","year":2049.4,"v":13.4},{"p":"f","n":"Cwa","year":2050.4,"v":13.9},{"p":"f","n":"Cwa","year":2051.8,"v":15.0},{"p":"f","n":"Cwa","year":2053.8,"v":16.0},{"p":"f","n":"Cwa","year":2055.1,"v":17.1},{"p":"f","n":"Cwa","year":2056.5,"v":16.85},{"p":"f","n":"Cwa","year":2057.8,"v":18.4},{"p":"f","n":"Cwa","year":2059.8,"v":18.1},{"p":"f","n":"Cwa","year":2061.8,"v":18.7},{"p":"f","n":"Cwa","year":2063.9,"v":18.1},{"p":"f","n":"Cwa","year":2065.9,"v":18.9},{"p":"f","n":"Cwa","year":2067.9,"v":18.1},{"p":"f","n":"Cwa","year":2069.2,"v":18.8},{"p":"f","n":"Cwa","year":2071.2,"v":18.25},{"p":"f","n":"Cwa","year":2072.6,"v":18.6},{"p":"f","n":"Cwa","year":2074.3,"v":18.25},{"p":"f","n":"Cwa","year":2076.7,"v":19.2},{"p":"f","n":"Cwa","year":2078.7,"v":19.0},{"p":"f","n":"Cwa","year":2080.7,"v":18.55},{"p":"f","n":"Cwa","year":2082.7,"v":19.0},{"p":"f","n":"Cwa","year":2084.7,"v":19.05},{"p":"f","n":"Cwa","year":2086.1,"v":18.7},{"p":"f","n":"Cwa","year":2087.4,"v":19.5},{"p":"f","n":"Cwa","year":2088.8,"v":19.7},{"p":"f","n":"Cwa","year":2090.1,"v":18.9},{"p":"f","n":"Cwa","year":2091.5,"v":19.2},{"p":"f","n":"Cwa","year":2093,"v":19.7},
{"p":"f","n":"Cfa","year":1990,"v":13.8},{"p":"f","n":"Cfa","year":1990.6,"v":13.5},{"p":"f","n":"Cfa","year":1991.6,"v":14.3},{"p":"f","n":"Cfa","year":1993,"v":13.75},{"p":"f","n":"Cfa","year":1994.6,"v":14.2},{"p":"f","n":"Cfa","year":1996,"v":13.9},{"p":"f","n":"Cfa","year":1997.3,"v":14.25},{"p":"f","n":"Cfa","year":1999.3,"v":13.9},{"p":"f","n":"Cfa","year":2001,"v":14.4},{"p":"f","n":"Cfa","year":2003,"v":14.9},{"p":"f","n":"Cfa","year":2004.7,"v":15.15},{"p":"f","n":"Cfa","year":2007.4,"v":14.85},{"p":"f","n":"Cfa","year":2010.1,"v":14.6},{"p":"f","n":"Cfa","year":2012.8,"v":14.75},{"p":"f","n":"Cfa","year":2015.5,"v":14.1},{"p":"f","n":"Cfa","year":2018.2,"v":14.85},{"p":"f","n":"Cfa","year":2019.5,"v":14.6},{"p":"f","n":"Cfa","year":2021.2,"v":13.9},{"p":"f","n":"Cfa","year":2023.5,"v":13.65},{"p":"f","n":"Cfa","year":2026.2,"v":14.2},{"p":"f","n":"Cfa","year":2027.6,"v":13.65},{"p":"f","n":"Cfa","year":2028.9,"v":14.0},{"p":"f","n":"Cfa","year":2030.3,"v":13.4},{"p":"f","n":"Cfa","year":2032.3,"v":12.9},{"p":"f","n":"Cfa","year":2034,"v":11.65},{"p":"f","n":"Cfa","year":2035,"v":11.15},{"p":"f","n":"Cfa","year":2036.3,"v":12.9},{"p":"f","n":"Cfa","year":2038.3,"v":13.4},{"p":"f","n":"Cfa","year":2040.3,"v":13.9},{"p":"f","n":"Cfa","year":2041.7,"v":14.6},{"p":"f","n":"Cfa","year":2043,"v":14.75},{"p":"f","n":"Cfa","year":2044.4,"v":13.4},{"p":"f","n":"Cfa","year":2045.7,"v":14.0},{"p":"f","n":"Cfa","year":2046.7,"v":14.5},{"p":"f","n":"Cfa","year":2047.7,"v":13.5},{"p":"f","n":"Cfa","year":2048.8,"v":14.0},{"p":"f","n":"Cfa","year":2050.1,"v":14.4},{"p":"f","n":"Cfa","year":2051.1,"v":13.4},{"p":"f","n":"Cfa","year":2053.1,"v":12.65},{"p":"f","n":"Cfa","year":2054.1,"v":12.65},{"p":"f","n":"Cfa","year":2054.8,"v":11.75},{"p":"f","n":"Cfa","year":2056.5,"v":11.4},{"p":"f","n":"Cfa","year":2057.8,"v":10.4},{"p":"f","n":"Cfa","year":2059.2,"v":10.65},{"p":"f","n":"Cfa","year":2060.5,"v":11.0},{"p":"f","n":"Cfa","year":2062.5,"v":10.9},{"p":"f","n":"Cfa","year":2063.9,"v":11.4},{"p":"f","n":"Cfa","year":2065.9,"v":10.75},{"p":"f","n":"Cfa","year":2067.6,"v":11.25},{"p":"f","n":"Cfa","year":2069.2,"v":10.9},{"p":"f","n":"Cfa","year":2071.2,"v":11.2},{"p":"f","n":"Cfa","year":2072.9,"v":11.05},{"p":"f","n":"Cfa","year":2074.6,"v":10.75},{"p":"f","n":"Cfa","year":2076.7,"v":10.4},{"p":"f","n":"Cfa","year":2078.7,"v":10.9},{"p":"f","n":"Cfa","year":2080.7,"v":11.55},{"p":"f","n":"Cfa","year":2082.7,"v":10.9},{"p":"f","n":"Cfa","year":2084.7,"v":11.0},{"p":"f","n":"Cfa","year":2086.4,"v":10.5},{"p":"f","n":"Cfa","year":2087.8,"v":10.75},{"p":"f","n":"Cfa","year":2088.8,"v":10.35},{"p":"f","n":"Cfa","year":2090.1,"v":11.2},{"p":"f","n":"Cfa","year":2091.8,"v":11.2},{"p":"f","n":"Cfa","year":2093,"v":10.8},
{"p":"f","n":"Cwb-TP","year":1990,"v":1.6},{"p":"f","n":"Cwb-TP","year":2014.1,"v":1.6},{"p":"f","n":"Cwb-TP","year":2016.1,"v":1.75},{"p":"f","n":"Cwb-TP","year":2021.5,"v":1.75},{"p":"f","n":"Cwb-TP","year":2024.2,"v":1.9},{"p":"f","n":"Cwb-TP","year":2026.9,"v":1.85},{"p":"f","n":"Cwb-TP","year":2029.6,"v":1.9},{"p":"f","n":"Cwb-TP","year":2035,"v":1.95},{"p":"f","n":"Cwb-TP","year":2036.3,"v":2.1},{"p":"f","n":"Cwb-TP","year":2040.3,"v":2.1},{"p":"f","n":"Cwb-TP","year":2041.7,"v":1.95},{"p":"f","n":"Cwb-TP","year":2044.4,"v":2.25},{"p":"f","n":"Cwb-TP","year":2049.8,"v":2.3},{"p":"f","n":"Cwb-TP","year":2053.1,"v":2.5},{"p":"f","n":"Cwb-TP","year":2056.5,"v":2.6},{"p":"f","n":"Cwb-TP","year":2059.2,"v":2.8},{"p":"f","n":"Cwb-TP","year":2063.2,"v":2.85},{"p":"f","n":"Cwb-TP","year":2067.2,"v":2.9},{"p":"f","n":"Cwb-TP","year":2069.9,"v":3.0},{"p":"f","n":"Cwb-TP","year":2071.2,"v":3.3},{"p":"f","n":"Cwb-TP","year":2073.9,"v":3.45},{"p":"f","n":"Cwb-TP","year":2075.9,"v":3.55},{"p":"f","n":"Cwb-TP","year":2078,"v":3.75},{"p":"f","n":"Cwb-TP","year":2080,"v":3.55},{"p":"f","n":"Cwb-TP","year":2083.4,"v":3.5},{"p":"f","n":"Cwb-TP","year":2086.1,"v":3.7},{"p":"f","n":"Cwb-TP","year":2088.1,"v":3.7},{"p":"f","n":"Cwb-TP","year":2089.4,"v":4.05},{"p":"f","n":"Cwb-TP","year":2090.8,"v":4.55},{"p":"f","n":"Cwb-TP","year":2093,"v":4.75},
{"p":"f","n":"Cwb-SW","year":1990,"v":3.0},{"p":"f","n":"Cwb-SW","year":1993.3,"v":2.85},{"p":"f","n":"Cwb-SW","year":2002.7,"v":2.85},{"p":"f","n":"Cwb-SW","year":2009.4,"v":2.8},{"p":"f","n":"Cwb-SW","year":2017.5,"v":2.7},{"p":"f","n":"Cwb-SW","year":2021.5,"v":2.5},{"p":"f","n":"Cwb-SW","year":2026.9,"v":2.25},{"p":"f","n":"Cwb-SW","year":2032.3,"v":2.2},{"p":"f","n":"Cwb-SW","year":2036.3,"v":2.25},{"p":"f","n":"Cwb-SW","year":2043,"v":2.1},{"p":"f","n":"Cwb-SW","year":2049.8,"v":1.95},{"p":"f","n":"Cwb-SW","year":2053.1,"v":1.65},{"p":"f","n":"Cwb-SW","year":2056.5,"v":1.6},{"p":"f","n":"Cwb-SW","year":2060.5,"v":1.55},{"p":"f","n":"Cwb-SW","year":2063.2,"v":1.4},{"p":"f","n":"Cwb-SW","year":2065.9,"v":1.55},{"p":"f","n":"Cwb-SW","year":2069.9,"v":1.45},{"p":"f","n":"Cwb-SW","year":2073.9,"v":1.4},{"p":"f","n":"Cwb-SW","year":2078,"v":1.35},{"p":"f","n":"Cwb-SW","year":2080.7,"v":1.2},{"p":"f","n":"Cwb-SW","year":2084.7,"v":1.15},{"p":"f","n":"Cwb-SW","year":2088.8,"v":1.1},{"p":"f","n":"Cwb-SW","year":2093,"v":1.05},
{"p":"g","n":"Dwa","year":1990,"v":9.8},{"p":"g","n":"Dwa","year":1993.3,"v":9.9},{"p":"g","n":"Dwa","year":1996,"v":10.0},{"p":"g","n":"Dwa","year":1998.7,"v":10.4},{"p":"g","n":"Dwa","year":2001.3,"v":10.7},{"p":"g","n":"Dwa","year":2004,"v":11.15},{"p":"g","n":"Dwa","year":2006.7,"v":11.4},{"p":"g","n":"Dwa","year":2009.4,"v":11.65},{"p":"g","n":"Dwa","year":2012.5,"v":11.4},{"p":"g","n":"Dwa","year":2014.8,"v":12.0},{"p":"g","n":"Dwa","year":2017.5,"v":12.0},{"p":"g","n":"Dwa","year":2020.2,"v":12.25},{"p":"g","n":"Dwa","year":2021.9,"v":12.3},{"p":"g","n":"Dwa","year":2023.6,"v":12.05},{"p":"g","n":"Dwa","year":2025.6,"v":11.75},{"p":"g","n":"Dwa","year":2027,"v":11.5},{"p":"g","n":"Dwa","year":2029.6,"v":12.3},{"p":"g","n":"Dwa","year":2032.3,"v":12.65},{"p":"g","n":"Dwa","year":2035,"v":12.85},{"p":"g","n":"Dwa","year":2037.7,"v":13.25},{"p":"g","n":"Dwa","year":2039.4,"v":13.9},{"p":"g","n":"Dwa","year":2040.4,"v":15.0},{"p":"g","n":"Dwa","year":2043.1,"v":15.1},{"p":"g","n":"Dwa","year":2045.8,"v":15.05},{"p":"g","n":"Dwa","year":2047.8,"v":15.0},{"p":"g","n":"Dwa","year":2049.9,"v":15.25},{"p":"g","n":"Dwa","year":2052.6,"v":15.5},{"p":"g","n":"Dwa","year":2054.9,"v":15.25},{"p":"g","n":"Dwa","year":2057.3,"v":15.05},{"p":"g","n":"Dwa","year":2060,"v":15.0},{"p":"g","n":"Dwa","year":2062.7,"v":15.35},{"p":"g","n":"Dwa","year":2064.7,"v":15.6},{"p":"g","n":"Dwa","year":2067.4,"v":15.75},{"p":"g","n":"Dwa","year":2070.1,"v":15.85},{"p":"g","n":"Dwa","year":2072.8,"v":15.8},{"p":"g","n":"Dwa","year":2075.5,"v":15.6},{"p":"g","n":"Dwa","year":2078.2,"v":16.1},{"p":"g","n":"Dwa","year":2080.9,"v":16.75},{"p":"g","n":"Dwa","year":2083.6,"v":16.95},{"p":"g","n":"Dwa","year":2085.6,"v":16.8},{"p":"g","n":"Dwa","year":2087.6,"v":16.5},{"p":"g","n":"Dwa","year":2090.3,"v":16.35},{"p":"g","n":"Dwa","year":2093,"v":16.1},
{"p":"g","n":"Dwb-NE","year":1990,"v":8.25},{"p":"g","n":"Dwb-NE","year":1992.6,"v":8.4},{"p":"g","n":"Dwb-NE","year":1995.3,"v":8.4},{"p":"g","n":"Dwb-NE","year":1998,"v":7.9},{"p":"g","n":"Dwb-NE","year":2000.7,"v":7.8},{"p":"g","n":"Dwb-NE","year":2004,"v":7.8},{"p":"g","n":"Dwb-NE","year":2006.7,"v":7.9},{"p":"g","n":"Dwb-NE","year":2009.4,"v":7.3},{"p":"g","n":"Dwb-NE","year":2012.1,"v":6.7},{"p":"g","n":"Dwb-NE","year":2014.8,"v":6.45},{"p":"g","n":"Dwb-NE","year":2017.5,"v":6.55},{"p":"g","n":"Dwb-NE","year":2020.9,"v":6.35},{"p":"g","n":"Dwb-NE","year":2024.3,"v":6.05},{"p":"g","n":"Dwb-NE","year":2027,"v":5.95},{"p":"g","n":"Dwb-NE","year":2029.6,"v":5.3},{"p":"g","n":"Dwb-NE","year":2032.3,"v":4.7},{"p":"g","n":"Dwb-NE","year":2035,"v":4.05},{"p":"g","n":"Dwb-NE","year":2037.7,"v":3.6},{"p":"g","n":"Dwb-NE","year":2040.4,"v":3.45},{"p":"g","n":"Dwb-NE","year":2043.1,"v":3.2},{"p":"g","n":"Dwb-NE","year":2045.8,"v":3.25},{"p":"g","n":"Dwb-NE","year":2048.5,"v":3.05},{"p":"g","n":"Dwb-NE","year":2051.2,"v":2.8},{"p":"g","n":"Dwb-NE","year":2053.9,"v":2.45},{"p":"g","n":"Dwb-NE","year":2056.6,"v":2.3},{"p":"g","n":"Dwb-NE","year":2059.3,"v":2.3},{"p":"g","n":"Dwb-NE","year":2062,"v":1.95},{"p":"g","n":"Dwb-NE","year":2064.7,"v":1.8},{"p":"g","n":"Dwb-NE","year":2067.4,"v":1.4},{"p":"g","n":"Dwb-NE","year":2070.1,"v":1.1},{"p":"g","n":"Dwb-NE","year":2072.8,"v":0.85},{"p":"g","n":"Dwb-NE","year":2075.5,"v":0.7},{"p":"g","n":"Dwb-NE","year":2078.2,"v":0.6},{"p":"g","n":"Dwb-NE","year":2080.9,"v":0.15},{"p":"g","n":"Dwb-NE","year":2083.6,"v":0.15},{"p":"g","n":"Dwb-NE","year":2086.3,"v":0.05},{"p":"g","n":"Dwb-NE","year":2093,"v":0.05},
{"p":"g","n":"Dwc-NE","year":1990,"v":2.6},{"p":"g","n":"Dwc-NE","year":1996,"v":2.45},{"p":"g","n":"Dwc-NE","year":2002.7,"v":2.3},{"p":"g","n":"Dwc-NE","year":2008.1,"v":1.95},{"p":"g","n":"Dwc-NE","year":2012.1,"v":1.6},{"p":"g","n":"Dwc-NE","year":2016.2,"v":1.55},{"p":"g","n":"Dwc-NE","year":2018.9,"v":1.3},{"p":"g","n":"Dwc-NE","year":2022.9,"v":1.2},{"p":"g","n":"Dwc-NE","year":2029.6,"v":1.15},{"p":"g","n":"Dwc-NE","year":2035,"v":0.9},{"p":"g","n":"Dwc-NE","year":2040.4,"v":0.8},{"p":"g","n":"Dwc-NE","year":2044.5,"v":0.5},{"p":"g","n":"Dwc-NE","year":2048.5,"v":0.2},{"p":"g","n":"Dwc-NE","year":2053.9,"v":0.15},{"p":"g","n":"Dwc-NE","year":2060,"v":0.1},{"p":"g","n":"Dwc-NE","year":2070.1,"v":0.1},{"p":"g","n":"Dwc-NE","year":2093,"v":0.05},
{"p":"g","n":"Dwb-TP","year":1990,"v":2.05},{"p":"g","n":"Dwb-TP","year":1996,"v":2.15},{"p":"g","n":"Dwb-TP","year":2001.3,"v":2.15},{"p":"g","n":"Dwb-TP","year":2003.4,"v":2.1},{"p":"g","n":"Dwb-TP","year":2005.4,"v":2.45},{"p":"g","n":"Dwb-TP","year":2009.4,"v":2.45},{"p":"g","n":"Dwb-TP","year":2013.5,"v":2.4},{"p":"g","n":"Dwb-TP","year":2016.2,"v":2.3},{"p":"g","n":"Dwb-TP","year":2018.9,"v":2.45},{"p":"g","n":"Dwb-TP","year":2024.3,"v":2.45},{"p":"g","n":"Dwb-TP","year":2027,"v":2.6},{"p":"g","n":"Dwb-TP","year":2032.3,"v":2.7},{"p":"g","n":"Dwb-TP","year":2035,"v":3.05},{"p":"g","n":"Dwb-TP","year":2037.7,"v":3.3},{"p":"g","n":"Dwb-TP","year":2040.4,"v":4.05},{"p":"g","n":"Dwb-TP","year":2041.8,"v":4.1},{"p":"g","n":"Dwb-TP","year":2043.1,"v":3.95},{"p":"g","n":"Dwb-TP","year":2045.8,"v":4.35},{"p":"g","n":"Dwb-TP","year":2048.5,"v":4.45},{"p":"g","n":"Dwb-TP","year":2051.2,"v":4.75},{"p":"g","n":"Dwb-TP","year":2053.9,"v":5.3},{"p":"g","n":"Dwb-TP","year":2056.6,"v":5.45},{"p":"g","n":"Dwb-TP","year":2059.3,"v":5.45},{"p":"g","n":"Dwb-TP","year":2062,"v":5.3},{"p":"g","n":"Dwb-TP","year":2064,"v":5.8},{"p":"g","n":"Dwb-TP","year":2067.4,"v":5.85},{"p":"g","n":"Dwb-TP","year":2070.1,"v":6.0},{"p":"g","n":"Dwb-TP","year":2072.8,"v":6.25},{"p":"g","n":"Dwb-TP","year":2075.5,"v":6.35},{"p":"g","n":"Dwb-TP","year":2078.2,"v":6.8},{"p":"g","n":"Dwb-TP","year":2080.9,"v":7.0},{"p":"g","n":"Dwb-TP","year":2083.6,"v":7.3},{"p":"g","n":"Dwb-TP","year":2086.3,"v":7.4},{"p":"g","n":"Dwb-TP","year":2089,"v":7.25},{"p":"g","n":"Dwb-TP","year":2093,"v":7.15},
{"p":"g","n":"Dwc-TP","year":1990,"v":4.75},{"p":"g","n":"Dwc-TP","year":1991.9,"v":4.6},{"p":"g","n":"Dwc-TP","year":1993.3,"v":4.95},{"p":"g","n":"Dwc-TP","year":1996,"v":4.85},{"p":"g","n":"Dwc-TP","year":1998.7,"v":5.1},{"p":"g","n":"Dwc-TP","year":2000,"v":5.3},{"p":"g","n":"Dwc-TP","year":2002.7,"v":5.55},{"p":"g","n":"Dwc-TP","year":2005.4,"v":5.3},{"p":"g","n":"Dwc-TP","year":2007.4,"v":5.2},{"p":"g","n":"Dwc-TP","year":2009.4,"v":5.7},{"p":"g","n":"Dwc-TP","year":2012.1,"v":5.85},{"p":"g","n":"Dwc-TP","year":2014.8,"v":6.1},{"p":"g","n":"Dwc-TP","year":2017.5,"v":6.25},{"p":"g","n":"Dwc-TP","year":2020.2,"v":6.2},{"p":"g","n":"Dwc-TP","year":2022.2,"v":6.25},{"p":"g","n":"Dwc-TP","year":2024.3,"v":7.05},{"p":"g","n":"Dwc-TP","year":2026.3,"v":7.15},{"p":"g","n":"Dwc-TP","year":2028.3,"v":7.05},{"p":"g","n":"Dwc-TP","year":2029.6,"v":7.55},{"p":"g","n":"Dwc-TP","year":2032.3,"v":7.3},{"p":"g","n":"Dwc-TP","year":2033.7,"v":7.6},{"p":"g","n":"Dwc-TP","year":2035.7,"v":7.15},{"p":"g","n":"Dwc-TP","year":2037.7,"v":7.3},{"p":"g","n":"Dwc-TP","year":2040.4,"v":7.05},{"p":"g","n":"Dwc-TP","year":2043.1,"v":7.25},{"p":"g","n":"Dwc-TP","year":2045.8,"v":7.05},{"p":"g","n":"Dwc-TP","year":2048.5,"v":7.3},{"p":"g","n":"Dwc-TP","year":2051.2,"v":7.1},{"p":"g","n":"Dwc-TP","year":2053.9,"v":6.6},{"p":"g","n":"Dwc-TP","year":2056.6,"v":6.8},{"p":"g","n":"Dwc-TP","year":2059.3,"v":7.1},{"p":"g","n":"Dwc-TP","year":2062,"v":7.4},{"p":"g","n":"Dwc-TP","year":2063.3,"v":7.55},{"p":"g","n":"Dwc-TP","year":2064.7,"v":7.15},{"p":"g","n":"Dwc-TP","year":2067.4,"v":7.4},{"p":"g","n":"Dwc-TP","year":2070.1,"v":7.4},{"p":"g","n":"Dwc-TP","year":2072.8,"v":6.8},{"p":"g","n":"Dwc-TP","year":2075.5,"v":6.05},{"p":"g","n":"Dwc-TP","year":2078.2,"v":5.7},{"p":"g","n":"Dwc-TP","year":2080.9,"v":5.2},{"p":"g","n":"Dwc-TP","year":2083.6,"v":4.7},{"p":"g","n":"Dwc-TP","year":2086.3,"v":4.55},{"p":"g","n":"Dwc-TP","year":2088.3,"v":4.45},{"p":"g","n":"Dwc-TP","year":2090.3,"v":4.1},{"p":"g","n":"Dwc-TP","year":2093,"v":3.6}
],
"anno": [
{"p":"a","t":"(a) Changed Percent","year":1992.6,"v":53.3},
{"p":"b","t":"(b) B Type","year":1993.2,"v":38.1},
{"p":"c","t":"(c) C Type","year":1993.2,"v":38.1},
{"p":"d","t":"(d) D Type","year":1993.2,"v":38.0},
{"p":"e","t":"(e) E Type","year":1993.2,"v":13.0},
{"p":"f","t":"(f) C subtypes","year":1993.2,"v":17.18},
{"p":"g","t":"(g) D subtypes","year":1993.2,"v":17.18}
],
"lbl": [
{"p":"f","n":"Cwa","year":2078.4,"v":17.15},
{"p":"f","n":"Cfa","year":2076.0,"v":12.85},
{"p":"f","n":"Cwb-TP","year":2073.3,"v":4.95},
{"p":"f","n":"Cwb-SW","year":2003.2,"v":4.13},
{"p":"g","n":"Dwa","year":2058.5,"v":16.8},
{"p":"g","n":"Dwb-NE","year":2017.4,"v":9.0},
{"p":"g","n":"Dwc-TP","year":2054.75,"v":9.0},
{"p":"g","n":"Dwb-TP","year":2066.2,"v":4.08},
{"p":"g","n":"Dwc-NE","year":2000.3,"v":0.9}
]
},
"vconcat": [
{"hconcat": [
  {"width": 118, "height": 357, "view": {"stroke": null}, "data": {"values": []}, "mark": "point"},
  {"width": 852, "height": 357,
   "layer": [
    {"data": {"name": "chg"},
     "mark": {"type": "line", "strokeWidth": 3, "clip": true},
     "encoding": {
       "x": {"field": "year", "type": "quantitative", "scale": {"domain": [1990, 2093], "nice": false, "zero": false}, "axis": {"values": [2000, 2020, 2040, 2060, 2080], "format": "d", "title": null, "labelOffset": -4, "tickSize": -9, "labelPadding": 23}},
       "y": {"field": "v", "type": "quantitative", "scale": {"domain": [0, 60], "nice": false}, "axis": {"values": [0, 10, 20, 30, 40, 50, 60], "title": "Changed Percent \u00a0(%)", "titleX": -55, "titleY": 169, "gridColor": "#b3b3b3", "gridDash": [12, 12], "gridWidth": 3, "gridOpacity": {"condition": {"test": "datum.value <= 0 || datum.value >= 60", "value": 0}, "value": 1}}},
       "color": {"field": "s", "type": "nominal", "scale": {"domain": ["s1", "s2", "s3", "s4"], "range": ["#3db51d", "#f4e542", "#f7821f", "#9e2622"]}, "legend": null}
     }},
    {"data": {"name": "anno"}, "transform": [{"filter": "datum.p == 'a'"}],
     "mark": {"type": "text", "align": "left", "baseline": "alphabetic", "font": "Liberation Mono", "fontWeight": "bold", "fontSize": 30, "color": "#111111"},
     "encoding": {"x": {"field": "year", "type": "quantitative"}, "y": {"field": "v", "type": "quantitative"}, "text": {"field": "t"}}}
   ]}
 ], "spacing": 0, "bounds": "flush", "resolve": {"scale": {"color": "independent"}}},
{"vconcat": [
  {"hconcat": [
    {"width": 509, "height": 267,
     "layer": [
      {"data": {"name": "types"}, "transform": [{"filter": "datum.p == 'b'"}],
       "mark": {"type": "line", "color": "#e8391f", "clip": true},
       "encoding": {
         "x": {"field": "year", "type": "quantitative", "scale": {"domain": [1990, 2093], "nice": false, "zero": false}, "axis": {"values": [2000, 2020, 2040, 2060, 2080], "format": "d", "title": null}},
         "y": {"field": "v", "type": "quantitative", "scale": {"domain": [25, 40], "nice": false, "zero": false}, "axis": {"values": [25, 30, 35, 40], "title": "Percent \u00a0(%)", "titleY": 125, "gridOpacity": {"condition": {"test": "datum.value <= 25 || datum.value >= 40", "value": 0}, "value": 1}}},
         "strokeWidth": {"field": "s", "type": "nominal", "scale": {"domain": ["s1", "s2", "s3", "s4"], "range": [3, 3, 1.3, 1.3]}, "legend": null},
         "strokeDash": {"field": "s", "type": "nominal", "scale": {"domain": ["s1", "s2", "s3", "s4"], "range": [[1, 0], [10, 5], [1, 0], [9, 5]]}, "legend": null}
       }},
      {"data": {"name": "anno"}, "transform": [{"filter": "datum.p == 'b'"}],
       "mark": {"type": "text", "align": "left", "baseline": "alphabetic", "font": "Liberation Mono", "fontWeight": "bold", "fontSize": 30, "color": "#111111"},
       "encoding": {"x": {"field": "year", "type": "quantitative"}, "y": {"field": "v", "type": "quantitative"}, "text": {"field": "t"}}}
     ]},
    {"width": 509, "height": 267,
     "layer": [
      {"data": {"name": "types"}, "transform": [{"filter": "datum.p == 'c'"}],
       "mark": {"type": "line", "color": "#3db81f", "clip": true},
       "encoding": {
         "x": {"field": "year", "type": "quantitative", "scale": {"domain": [1990, 2093], "nice": false, "zero": false}, "axis": {"values": [2000, 2020, 2040, 2060, 2080], "format": "d", "title": null}},
         "y": {"field": "v", "type": "quantitative", "scale": {"domain": [25, 40], "nice": false, "zero": false}, "axis": {"values": [25, 30, 35, 40], "title": null, "gridOpacity": {"condition": {"test": "datum.value <= 25 || datum.value >= 40", "value": 0}, "value": 1}}},
         "strokeWidth": {"field": "s", "type": "nominal", "scale": {"domain": ["s1", "s2", "s3", "s4"], "range": [3, 3, 1.3, 1.3]}, "legend": null},
         "strokeDash": {"field": "s", "type": "nominal", "scale": {"domain": ["s1", "s2", "s3", "s4"], "range": [[1, 0], [10, 5], [1, 0], [9, 5]]}, "legend": null}
       }},
      {"data": {"name": "anno"}, "transform": [{"filter": "datum.p == 'c'"}],
       "mark": {"type": "text", "align": "left", "baseline": "alphabetic", "font": "Liberation Mono", "fontWeight": "bold", "fontSize": 30, "color": "#111111"},
       "encoding": {"x": {"field": "year", "type": "quantitative"}, "y": {"field": "v", "type": "quantitative"}, "text": {"field": "t"}}}
     ]}
  ], "spacing": 54, "bounds": "flush", "resolve": {"scale": {"strokeDash": "independent", "strokeWidth": "independent"}}},
  {"vconcat": [
    {"hconcat": [
      {"width": 509, "height": 267,
       "layer": [
        {"data": {"name": "types"}, "transform": [{"filter": "datum.p == 'd'"}],
         "mark": {"type": "line", "color": "#2e3592", "clip": true},
         "encoding": {
           "x": {"field": "year", "type": "quantitative", "scale": {"domain": [1990, 2093], "nice": false, "zero": false}, "axis": {"values": [2000, 2020, 2040, 2060, 2080], "format": "d", "title": null}},
           "y": {"field": "v", "type": "quantitative", "scale": {"domain": [25, 40], "nice": false, "zero": false}, "axis": {"values": [25, 30, 35, 40], "title": "Percent \u00a0(%)", "titleY": 126, "gridOpacity": {"condition": {"test": "datum.value <= 25 || datum.value >= 40", "value": 0}, "value": 1}}},
           "strokeWidth": {"field": "s", "type": "nominal", "scale": {"domain": ["s1", "s2", "s3", "s4"], "range": [3, 3, 1.3, 1.3]}, "legend": null},
           "strokeDash": {"field": "s", "type": "nominal", "scale": {"domain": ["s1", "s2", "s3", "s4"], "range": [[1, 0], [10, 5], [1, 0], [9, 5]]}, "legend": null}
         }},
        {"data": {"name": "anno"}, "transform": [{"filter": "datum.p == 'd'"}],
         "mark": {"type": "text", "align": "left", "baseline": "alphabetic", "font": "Liberation Mono", "fontWeight": "bold", "fontSize": 30, "color": "#111111"},
         "encoding": {"x": {"field": "year", "type": "quantitative"}, "y": {"field": "v", "type": "quantitative"}, "text": {"field": "t"}}}
       ]},
      {"width": 509, "height": 267,
       "layer": [
        {"data": {"name": "types"}, "transform": [{"filter": "datum.p == 'e'"}],
         "mark": {"type": "line", "color": "#a8a8a8", "clip": true},
         "encoding": {
           "x": {"field": "year", "type": "quantitative", "scale": {"domain": [1990, 2093], "nice": false, "zero": false}, "axis": {"values": [2000, 2020, 2040, 2060, 2080], "format": "d", "title": null}},
           "y": {"field": "v", "type": "quantitative", "scale": {"domain": [0, 15], "nice": false, "zero": false}, "axis": {"values": [0, 5, 10, 15], "title": null, "gridOpacity": {"condition": {"test": "datum.value <= 0 || datum.value >= 15", "value": 0}, "value": 1}}},
           "strokeWidth": {"field": "s", "type": "nominal", "scale": {"domain": ["s1", "s2", "s3", "s4"], "range": [3, 3, 1.3, 1.3]}, "legend": null},
           "strokeDash": {"field": "s", "type": "nominal", "scale": {"domain": ["s1", "s2", "s3", "s4"], "range": [[1, 0], [10, 5], [1, 0], [9, 5]]}, "legend": null}
         }},
        {"data": {"name": "anno"}, "transform": [{"filter": "datum.p == 'e'"}],
         "mark": {"type": "text", "align": "left", "baseline": "alphabetic", "font": "Liberation Mono", "fontWeight": "bold", "fontSize": 30, "color": "#111111"},
         "encoding": {"x": {"field": "year", "type": "quantitative"}, "y": {"field": "v", "type": "quantitative"}, "text": {"field": "t"}}}
       ]}
    ], "spacing": 54, "bounds": "flush", "resolve": {"scale": {"strokeDash": "independent", "strokeWidth": "independent"}}},
    {"hconcat": [
      {"width": 509, "height": 267,
       "layer": [
        {"data": {"name": "sub"}, "transform": [{"filter": "datum.p == 'f'"}],
         "mark": {"type": "line", "strokeWidth": 2.5, "clip": true},
         "encoding": {
           "x": {"field": "year", "type": "quantitative", "scale": {"domain": [1990, 2093], "nice": false, "zero": false}, "axis": {"values": [2000, 2020, 2040, 2060, 2080], "format": "d", "title": null}},
           "y": {"field": "v", "type": "quantitative", "scale": {"domain": [0, 20], "nice": false, "zero": false}, "axis": {"values": [5, 10, 15], "title": "Percent \u00a0(%)", "titleY": 134, "gridColor": "#a8a8a8", "gridDash": [10, 7], "gridWidth": 1.5}},
           "color": {"field": "n", "type": "nominal", "scale": {"domain": ["Cwa", "Cfa", "Cwb-TP", "Cwb-SW"], "range": ["#b3ec97", "#d4e64d", "#68d257", "#68d257"]}, "legend": null},
           "strokeDash": {"field": "n", "type": "nominal", "scale": {"domain": ["Cwa", "Cfa", "Cwb-TP", "Cwb-SW"], "range": [[1, 0], [1, 0], [1, 0], [9, 6]]}, "legend": null}
         }},
        {"data": {"name": "lbl"}, "transform": [{"filter": "datum.p == 'f'"}],
         "mark": {"type": "text", "align": "center", "baseline": "middle", "font": "Liberation Mono", "fontWeight": "bold", "fontSize": 25},
         "encoding": {"x": {"field": "year", "type": "quantitative"}, "y": {"field": "v", "type": "quantitative"}, "text": {"field": "n"}, "color": {"field": "n", "type": "nominal", "legend": null}}},
        {"data": {"name": "anno"}, "transform": [{"filter": "datum.p == 'f'"}],
         "mark": {"type": "text", "align": "left", "baseline": "alphabetic", "font": "Liberation Mono", "fontWeight": "bold", "fontSize": 30, "color": "#111111"},
         "encoding": {"x": {"field": "year", "type": "quantitative"}, "y": {"field": "v", "type": "quantitative"}, "text": {"field": "t"}}}
       ]},
      {"width": 509, "height": 267,
       "layer": [
        {"data": {"name": "sub"}, "transform": [{"filter": "datum.p == 'g'"}],
         "mark": {"type": "line", "strokeWidth": 2.5, "clip": true},
         "encoding": {
           "x": {"field": "year", "type": "quantitative", "scale": {"domain": [1990, 2093], "nice": false, "zero": false}, "axis": {"values": [2000, 2020, 2040, 2060, 2080], "format": "d", "title": null}},
           "y": {"field": "v", "type": "quantitative", "scale": {"domain": [0, 20], "nice": false, "zero": false}, "axis": {"values": [5, 10, 15], "title": null, "gridColor": "#a8a8a8", "gridDash": [10, 7], "gridWidth": 1.5}},
           "color": {"field": "n", "type": "nominal", "scale": {"domain": ["Dwa", "Dwb-NE", "Dwc-TP", "Dwb-TP", "Dwc-NE"], "range": ["#a9b6ea", "#4d80d0", "#5544b5", "#4d80d0", "#5544b5"]}, "legend": null},
           "strokeDash": {"field": "n", "type": "nominal", "scale": {"domain": ["Dwa", "Dwb-NE", "Dwc-TP", "Dwb-TP", "Dwc-NE"], "range": [[10, 6], [10, 6], [1, 0], [1, 0], [10, 6]]}, "legend": null}
         }},
        {"data": {"name": "lbl"}, "transform": [{"filter": "datum.p == 'g'"}],
         "mark": {"type": "text", "align": "center", "baseline": "middle", "font": "Liberation Mono", "fontWeight": "bold", "fontSize": 25},
         "encoding": {"x": {"field": "year", "type": "quantitative"}, "y": {"field": "v", "type": "quantitative"}, "text": {"field": "n"}, "color": {"field": "n", "type": "nominal", "legend": null}}},
        {"data": {"name": "anno"}, "transform": [{"filter": "datum.p == 'g'"}],
         "mark": {"type": "text", "align": "left", "baseline": "alphabetic", "font": "Liberation Mono", "fontWeight": "bold", "fontSize": 30, "color": "#111111"},
         "encoding": {"x": {"field": "year", "type": "quantitative"}, "y": {"field": "v", "type": "quantitative"}, "text": {"field": "t"}}}
       ]}
    ], "spacing": 54, "bounds": "flush", "resolve": {"scale": {"color": "independent", "strokeDash": "independent"}}}
  ], "spacing": 9.5, "resolve": {"scale": {"color": "independent", "strokeDash": "independent", "strokeWidth": "independent"}}}
 ], "spacing": 6, "resolve": {"scale": {"color": "independent", "strokeDash": "independent", "strokeWidth": "independent"}}}
]
}
